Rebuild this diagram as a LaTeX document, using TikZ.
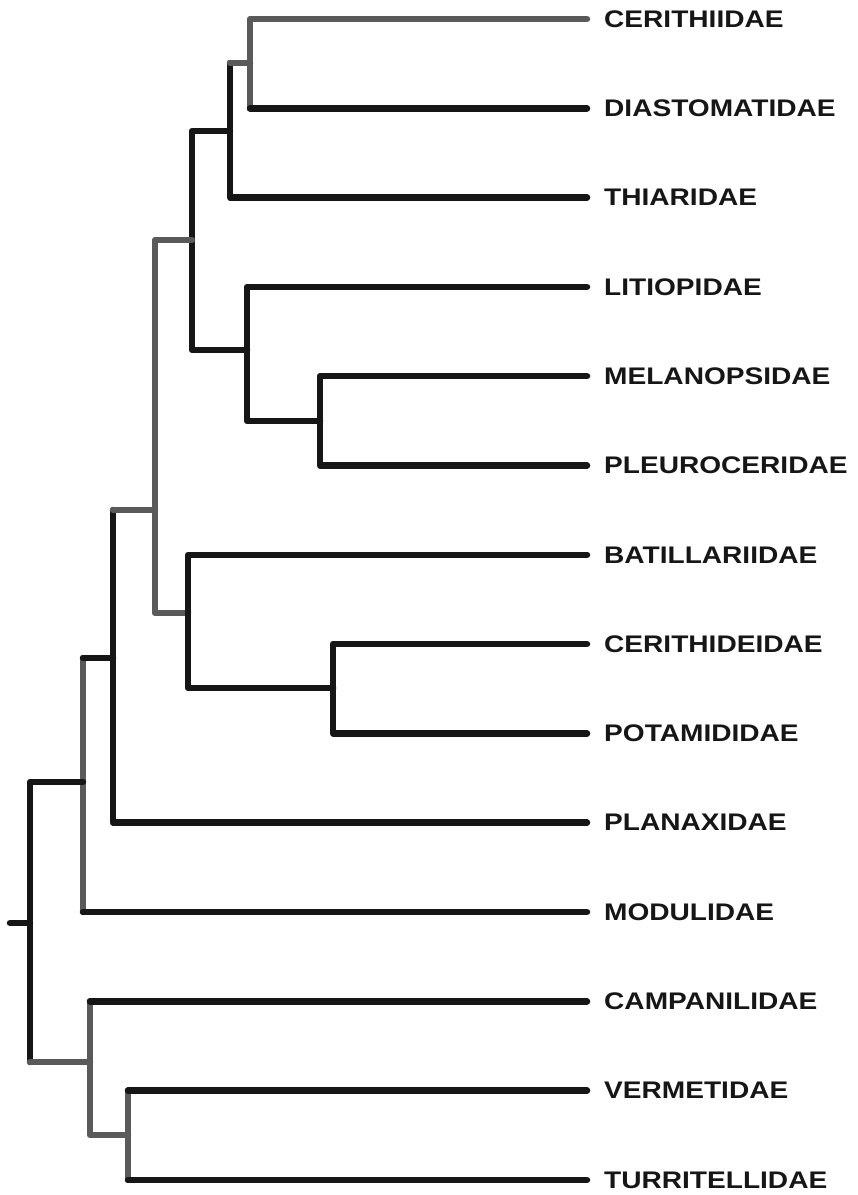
\documentclass[tikz,border=0pt]{standalone}
\usepackage{fontspec}
\setmainfont{Liberation Sans}
\newfontfamily\labfont{Liberation Sans}[FakeStretch=1.17]
\definecolor{lgray}{HTML}{5A5A5A}
\definecolor{lblack}{HTML}{161616}
\begin{document}
\begin{tikzpicture}[x=1pt,y=-1pt,
  br/.style={line width=6.5pt,line cap=round,line join=round},
  gr/.style={br,draw=lgray},
  bk/.style={br,draw=lblack},
  lab/.style={anchor=west,inner sep=0pt,font=\labfont\bfseries\fontsize{24}{24}\selectfont,text=lblack}]
\useasboundingbox (0,0) rectangle (858,1195);
% leaf tips and labels
\foreach \i/\n/\t in {0/a/CERITHIIDAE,1/b/DIASTOMATIDAE,2/c/THIARIDAE,3/d/LITIOPIDAE,4/e/MELANOPSIDAE,5/f/PLEUROCERIDAE,6/g/BATILLARIIDAE,7/h/CERITHIDEIDAE,8/i/POTAMIDIDAE,9/j/PLANAXIDAE,10/k/MODULIDAE,11/l/CAMPANILIDAE,12/m/VERMETIDAE,13/n/TURRITELLIDAE}{
  \coordinate (t\n) at (587,{19+89.3*\i});
  \node[lab] (l\n) at (604,{19+89.3*\i}) {\t};
}
% internal nodes
\coordinate (CD) at (250,63);
\coordinate (T) at (230,131);
\coordinate (A) at (192,240);
\coordinate (L) at (247,350);
\coordinate (MP) at (320,421);
\coordinate (B) at (155,510);
\coordinate (BC) at (188,613);
\coordinate (CP) at (333,688);
\coordinate (P) at (113,658);
\coordinate (M) at (83,782);
\coordinate (R) at (30,923);
\coordinate (S) at (10,923);
\coordinate (CV) at (90,1062);
\coordinate (VT) at (128,1135);
% Cerithiidae / Diastomatidae
\draw[gr] (CD) |- (ta);
\draw[gr] (CD) -- (CD |- tb);
\draw[bk] (CD |- tb) -- (tb);
% Thiaridae node
\draw[bk] (T) -- (T |- CD);
\draw[gr] (T |- CD) -- (CD);
\draw[bk] (T) |- (tc);
% A
\draw[bk] (A) |- (T);
\draw[bk] (A) |- (L);
\draw[bk] (L) |- (td);
\draw[bk] (L) |- (MP);
\draw[bk] (MP) |- (te);
\draw[bk] (MP) |- (tf);
% B
\draw[gr] (B) |- (A);
\draw[gr] (B) |- (BC);
\draw[bk] (BC) |- (tg);
\draw[bk] (BC) |- (CP);
\draw[bk] (CP) |- (th);
\draw[bk] (CP) |- (ti);
% P
\draw[bk] (P) -- (P |- B);
\draw[gr] (P |- B) -- (B);
\draw[bk] (P) |- (tj);
% M
\draw[gr] (M) -- (M |- P);
\draw[bk] (M |- P) -- (P);
\draw[gr] (M) -- (M |- tk);
\draw[bk] (M |- tk) -- (tk);
% root
\draw[bk] (S) -- (R);
\draw[bk] (R) |- (M);
\draw[bk] (R) -- (R |- CV);
\draw[gr] (R |- CV) -- (CV);
% CV
\draw[gr] (CV) -- (CV |- tl);
\draw[bk] (CV |- tl) -- (tl);
\draw[gr] (CV) |- (VT);
\draw[gr] (VT) -- (VT |- tm);
\draw[bk] (VT |- tm) -- (tm);
\draw[gr] (VT) -- (VT |- tn);
\draw[bk] (VT |- tn) -- (tn);
\end{tikzpicture}
\end{document}
